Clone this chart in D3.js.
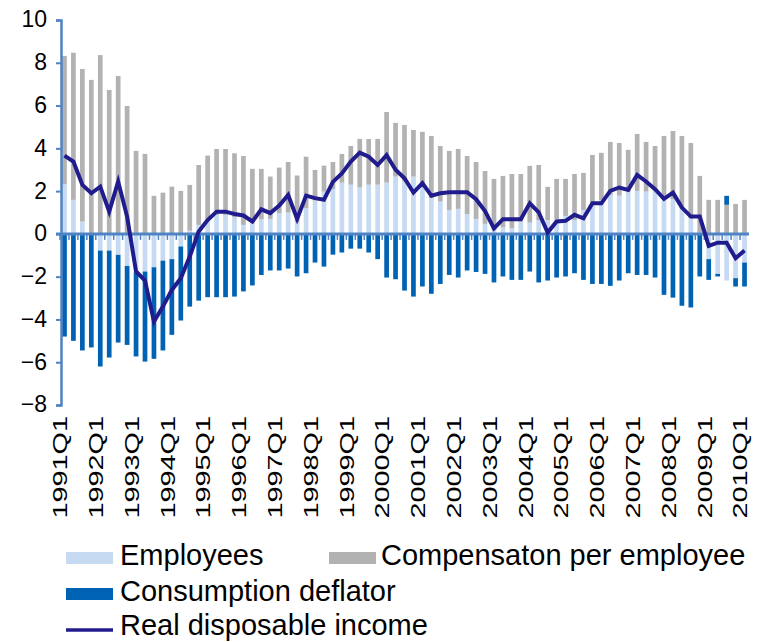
<!DOCTYPE html>
<html>
<head>
<meta charset="utf-8">
<script src="https://cdn.jsdelivr.net/npm/d3@7"></script>
<style>
  html, body { margin: 0; padding: 0; background: #ffffff; }
  svg { display: block; font-family: "Liberation Sans", Arial, sans-serif; }
</style>
</head>
<body>
<svg id="chart" width="778" height="642"></svg>
<script>
// ---- Data (quarterly, 1991Q1 .. 2010Q1) ----
const years = d3.range(1991, 2011);
const categories = [];
years.forEach(y => [1, 2, 3, 4].forEach(q => { if (y < 2010 || q === 1) categories.push(y + "Q" + q); }));

const tickLabels = ["1991Q1","1992Q1","1993Q1","1994Q1","1995Q1","1996Q1","1997Q1","1998Q1","1999Q1","2000Q1",
                    "2001Q1","2002Q1","2003Q1","2004Q1","2005Q1","2006Q1","2007Q1","2008Q1","2009Q1","2010Q1"];
const yTicks = [10, 8, 6, 4, 2, 0, -2, -4, -6, -8];

const employees = [
  2.32, 1.59, 0.58, -0.05, -0.78, -0.78, -0.98, -1.50, -1.80, -1.76, -1.56, -1.25, -1.18, -0.59, 0.15, 0.42, 0.65, 0.89, 0.89,
  0.78, 0.42, 0.50, 0.69, 0.70, 0.97, 1.00, 0.55, 1.21, 1.56, 1.98, 2.10, 2.40, 2.30, 2.17, 2.30, 2.30, 2.40, 2.68,
  2.45, 2.68, 2.21, 1.67, 1.51, 1.12, 1.17, 0.93, 0.70, 0.47, 0.19, 0.31, 0.26, 0.58, 0.53, 0.65, 0.65, 0.69, 0.84,
  0.65, 1.12, 1.43, 1.56, 1.82, 1.79, 1.98, 2.01, 1.98, 2.06, 1.67, 1.62, 1.28, 0.73, 0.05, -1.18, -1.87, -2.18, -2.07, -1.34
];
const compensation = [
  6.00, 6.88, 7.13, 7.20, 8.36, 6.73, 7.38, 5.98, 3.88, 3.74, 1.78, 1.93, 2.21, 2.01, 2.14, 2.80, 3.01, 3.08, 3.08,
  2.99, 3.22, 2.54, 2.35, 1.98, 2.13, 2.36, 2.18, 2.40, 1.43, 1.21, 1.26, 1.34, 1.81, 2.27, 2.14, 2.14, 3.30, 2.51,
  2.64, 2.18, 2.56, 2.91, 2.60, 2.76, 2.80, 2.71, 2.66, 2.47, 2.38, 2.40, 2.54, 2.22, 2.65, 2.57, 1.55, 1.88, 1.73,
  2.15, 1.73, 2.26, 2.23, 2.48, 2.46, 1.95, 2.66, 2.32, 2.05, 2.91, 3.19, 3.30, 3.52, 2.66, 1.59, 1.59, 1.36, 1.40, 1.59
];
const deflator = [
  -4.80, -5.00, -5.45, -5.26, -5.42, -5.00, -4.10, -3.69, -3.93, -4.21, -4.28, -4.20, -3.54, -3.46, -3.40, -3.12, -2.96, -2.96, -2.96,
  -2.93, -2.69, -2.41, -1.92, -1.71, -1.71, -1.62, -1.99, -1.84, -1.34, -1.53, -0.97, -0.87, -0.69, -0.69, -0.87, -1.18, -2.04, -2.12,
  -2.65, -2.93, -2.46, -2.80, -2.34, -1.92, -2.04, -1.71, -1.78, -1.87, -2.27, -1.99, -2.15, -2.15, -1.76, -2.27, -2.18, -2.04, -1.99,
  -1.84, -2.15, -2.34, -2.34, -2.43, -2.18, -1.84, -1.92, -1.92, -2.04, -2.85, -2.98, -3.36, -3.44, -1.99, -0.97, -0.12, 0.42, -0.39, -1.12
];
const realIncome = [
  3.66, 3.38, 2.29, 1.90, 2.21, 1.04, 2.45, 0.81, -1.76, -2.18, -4.10, -3.40, -2.62, -2.07, -1.06, 0.11, 0.65, 1.04, 1.04,
  0.93, 0.86, 0.58, 1.15, 0.97, 1.32, 1.82, 0.70, 1.79, 1.67, 1.60, 2.43, 2.83, 3.38, 3.80, 3.61, 3.22, 3.68, 3.00,
  2.60, 1.93, 2.37, 1.79, 1.90, 1.95, 1.95, 1.95, 1.62, 1.07, 0.26, 0.69, 0.69, 0.69, 1.43, 1.01, 0.06, 0.58, 0.61,
  0.89, 0.73, 1.43, 1.43, 2.01, 2.17, 2.06, 2.76, 2.45, 2.09, 1.64, 1.93, 1.23, 0.81, 0.81, -0.56, -0.41, -0.41, -1.14, -0.78
];

const seriesNames = ["Employees", "Compensaton per employee", "Consumption deflator"];
const seriesColors = ["#c6daf1", "#b2b2b2", "#0062b2"];
const lineName = "Real disposable income";
const lineColor = "#201c8e";
const axisColor = "#4f83c4";

// ---- Build table ----
const table = categories.map((c, i) => ({
  cat: c,
  "Employees": employees[i],
  "Compensaton per employee": compensation[i],
  "Consumption deflator": deflator[i]
}));

const svg = d3.select("#chart");

const x = d3.scaleBand().domain(categories).range([60, 749]).padding(0);
const y = d3.scaleLinear().domain([-8, 10]).range([405, 20]);
const barW = 4.7;

const stacked = d3.stack().keys(seriesNames).offset(d3.stackOffsetDiverging)(table);

// Bars
const gBars = svg.append("g");
stacked.forEach((s, si) => {
  gBars.append("g").attr("fill", seriesColors[si])
    .selectAll("rect").data(s).join("rect")
    .attr("x", d => x(d.data.cat) + x.bandwidth() / 2 - barW / 2)
    .attr("width", barW)
    .attr("y", d => y(Math.max(d[0], d[1])))
    .attr("height", d => Math.abs(y(d[0]) - y(d[1])));
});

// Y axis
const yAxis = d3.axisLeft(y).tickValues(yTicks).tickSize(5).tickPadding(9).tickFormat(d3.format("d"));
const gy = svg.append("g").attr("transform", "translate(61,0)").call(yAxis);
gy.select(".domain").attr("stroke", axisColor).attr("stroke-width", 2.5);
gy.selectAll(".tick line").attr("stroke", axisColor).attr("stroke-width", 2);
gy.selectAll(".tick text")
  .attr("fill", "#000").attr("font-size", "23px")
  .attr("font-family", "'Liberation Sans', Arial, sans-serif")
  .attr("dy", "0.3em");

// Zero (category) axis
const gx = svg.append("g");
gx.selectAll("line.tk").data(categories).join("line")
  .attr("class", "tk")
  .attr("x1", d => x(d)).attr("x2", d => x(d))
  .attr("y1", y(0)).attr("y2", y(0) + 6)
  .attr("stroke", axisColor).attr("stroke-width", 1.5);
gx.append("line")
  .attr("x1", 56).attr("x2", 749)
  .attr("y1", y(0)).attr("y2", y(0))
  .attr("stroke", axisColor).attr("stroke-width", 3);

// X labels (rotated)
svg.append("g").selectAll("text").data(tickLabels).join("text")
  .attr("transform", d => `translate(${x(d) + 0.5},416) rotate(-90) scale(1.48,1)`)
  .attr("text-anchor", "end")
  .attr("dy", "0.35em")
  .attr("font-size", "19.5px")
  .attr("fill", "#000")
  .text(d => d);

// Line
const line = d3.line()
  .x((d, i) => x(categories[i]) + x.bandwidth() / 2)
  .y(d => y(d));
svg.append("path").datum(realIncome)
  .attr("d", line)
  .attr("fill", "none")
  .attr("stroke", lineColor)
  .attr("stroke-width", 4)
  .attr("stroke-linejoin", "miter");

// Legend
const legend = svg.append("g").attr("font-size", "29px").attr("fill", "#000");
const legendItems = [
  { name: seriesNames[0], color: seriesColors[0], type: "rect", sx: 66, tx: 120, by: 565 },
  { name: seriesNames[1], color: seriesColors[1], type: "rect", sx: 329, tx: 381, by: 565 },
  { name: seriesNames[2], color: seriesColors[2], type: "rect", sx: 66, tx: 120, by: 601 },
  { name: lineName, color: lineColor, type: "line", sx: 66, tx: 120, by: 635 }
];
legendItems.forEach(it => {
  if (it.type === "rect") {
    legend.append("rect").attr("x", it.sx).attr("y", it.by - 13).attr("width", 47).attr("height", 12).attr("fill", it.color);
  } else {
    legend.append("line").attr("x1", it.sx).attr("x2", it.sx + 47)
      .attr("y1", it.by - 5).attr("y2", it.by - 5)
      .attr("stroke", it.color).attr("stroke-width", 3.5);
  }
  legend.append("text").attr("x", it.tx).attr("y", it.by).text(it.name);
});
</script>
</body>
</html>
